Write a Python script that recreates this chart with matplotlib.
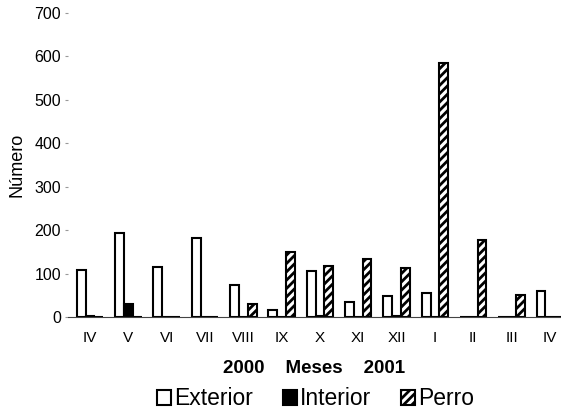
import numpy as np
import matplotlib.pyplot as plt

plt.rcParams['font.family'] = ['Liberation Sans', 'DejaVu Sans']
plt.rcParams['hatch.linewidth'] = 2.0

meses = ['IV', 'V', 'VI', 'VII', 'VIII', 'IX', 'X', 'XI', 'XII', 'I', 'II', 'III', 'IV']
exterior = [108, 194, 115, 182, 73, 15, 107, 35, 48, 56, 0, 0, 60]
interior = [2, 29, 1, 0, 0, 0, 2, 0, 2, 0, 0, 0, 0]
perro = [0, 0, 0, 0, 29, 150, 118, 134, 112, 585, 177, 51, 0]

fig = plt.figure(figsize=(5.61, 4.12), dpi=100)
ax = fig.add_axes([0.1212, 0.2306, 0.8788, 0.7378])

x = np.arange(len(meses))
w = 0.23
ax.bar(x - w, exterior, w, color='white', edgecolor='black', linewidth=1.5, label='Exterior')
ax.bar(x, interior, w, color='black', edgecolor='black', linewidth=1.5, label='Interior')
ax.bar(x + w, perro, w, color='white', edgecolor='black', linewidth=1.5, hatch='////', label='Perro')

ax.set_xlim(-0.574, 12.29)
ax.set_ylim(0, 700)
ax.set_yticks(range(0, 701, 100))
ax.set_xticks(x)
ax.set_xticklabels(meses, fontsize=11)
ax.tick_params(axis='y', labelsize=11.5, length=2, color='#999999', pad=3)
ax.tick_params(axis='x', length=0, pad=10)
ax.spines['top'].set_visible(False)
ax.spines['right'].set_visible(False)
ax.spines['left'].set_visible(False)
ax.spines['bottom'].set_color('#444444')
ax.spines['bottom'].set_linewidth(0.8)
ax.set_ylabel('Número', fontsize=13)
ax.yaxis.set_label_coords(-0.087, 0.5)
ax.set_xlabel('2000    Meses    2001', fontsize=13.5, fontweight='bold', labelpad=11)

fig.legend(*ax.get_legend_handles_labels(), loc='center', bbox_to_anchor=(0.563, 0.032),
           ncol=3, frameon=False, fontsize=16.5, handlelength=0.6, handleheight=0.6,
           handletextpad=0.15, columnspacing=1.3, borderpad=0)

plt.savefig('out.png')
